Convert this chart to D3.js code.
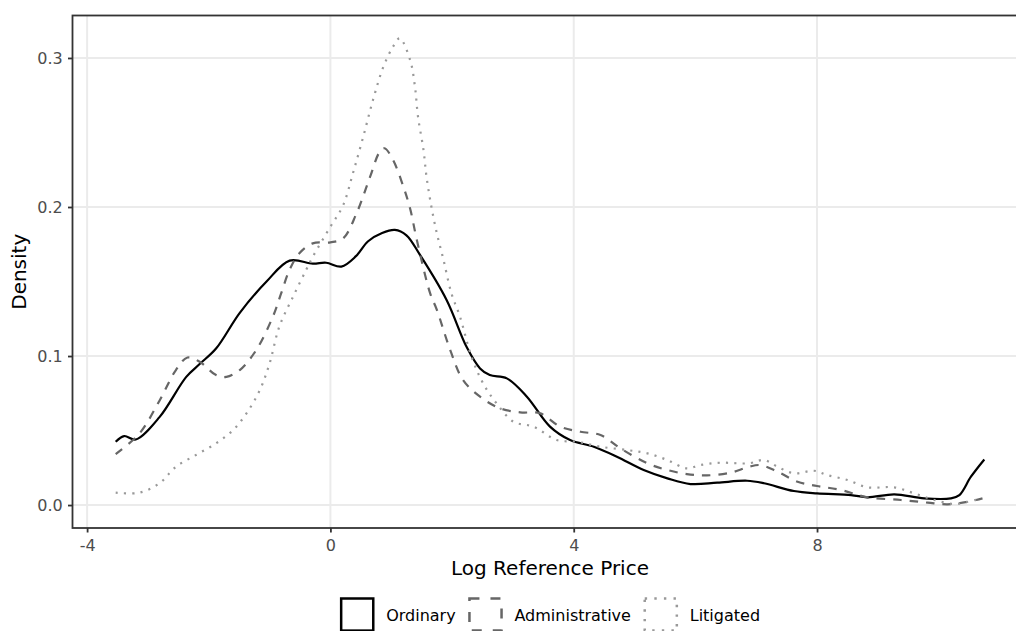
<!DOCTYPE html>
<html>
<head>
<meta charset="utf-8">
<script src="https://cdn.jsdelivr.net/npm/d3@7"></script>
<style>
  body { margin: 0; background: #fff; }
  svg { display: block; font-family: "DejaVu Sans", sans-serif; }
</style>
</head>
<body>
<svg id="chart" width="1016" height="631"></svg>
<script>
// series names, in legend order
const groups = ["Ordinary", "Administrative", "Litigated"];

// density curves (x = log reference price, y = density)
const ordinaryX = [-3.53, -3.39, -3.2, -2.81, -2.37, -2.15, -1.88, -1.49, -1.05, -0.67, -0.29, -0.07, 0.18, 0.42, 0.62, 0.85, 1.06, 1.25, 1.47, 1.91, 2.24, 2.46, 2.62, 2.9, 3.23, 3.61, 3.94, 4.33, 4.71, 5.15, 5.54, 5.92, 6.36, 6.85, 7.13, 7.62, 8.0, 8.56, 8.83, 9.27, 9.76, 10.2, 10.34, 10.53, 10.75];
const ordinaryY = [0.0425, 0.0463, 0.044, 0.059, 0.086, 0.0946, 0.105, 0.129, 0.15, 0.164, 0.162, 0.1626, 0.16, 0.167, 0.177, 0.1825, 0.1846, 0.181, 0.168, 0.1376, 0.106, 0.0917, 0.0872, 0.085, 0.0727, 0.0526, 0.0436, 0.0391, 0.0324, 0.0235, 0.0179, 0.0141, 0.015, 0.0163, 0.0146, 0.0094, 0.0078, 0.0067, 0.0052, 0.0072, 0.0045, 0.0045, 0.0067, 0.019, 0.0306];

const adminX = [-3.53, -3.14, -2.81, -2.54, -2.35, -2.15, -1.88, -1.71, -1.49, -1.22, -0.95, -0.81, -0.67, -0.51, -0.29, 0.0, 0.21, 0.43, 0.65, 0.81, 0.89, 1.03, 1.2, 1.31, 1.42, 1.64, 1.75, 1.97, 2.18, 2.46, 2.79, 3.12, 3.45, 3.78, 4.11, 4.44, 4.77, 5.21, 5.54, 5.86, 6.19, 6.58, 6.88, 7.07, 7.35, 7.68, 8.0, 8.39, 8.83, 9.38, 9.82, 10.15, 10.48, 10.72];
const adminY = [0.0342, 0.048, 0.07, 0.0906, 0.099, 0.0962, 0.0872, 0.086, 0.0906, 0.104, 0.126, 0.142, 0.158, 0.169, 0.1756, 0.1763, 0.179, 0.1958, 0.22, 0.237, 0.2394, 0.2315, 0.2136, 0.199, 0.178, 0.142, 0.131, 0.104, 0.0839, 0.0727, 0.0649, 0.0622, 0.0615, 0.0526, 0.0492, 0.047, 0.038, 0.028, 0.0235, 0.0208, 0.0199, 0.0217, 0.0257, 0.0268, 0.0224, 0.0156, 0.0128, 0.0101, 0.0052, 0.0034, 0.0016, 0.0005, 0.0022, 0.0045];

const litigatedX = [-3.53, -3.14, -2.81, -2.54, -2.21, -1.88, -1.6, -1.38, -1.16, -1.0, -0.84, -0.6, -0.4, -0.29, 0.0, 0.21, 0.37, 0.54, 0.7, 0.87, 1.03, 1.14, 1.31, 1.39, 1.44, 1.53, 1.58, 1.66, 1.75, 1.86, 1.99, 2.13, 2.32, 2.51, 2.73, 3.01, 3.34, 3.72, 4.05, 4.44, 4.88, 5.21, 5.54, 5.86, 6.08, 6.41, 6.88, 7.13, 7.35, 7.62, 7.95, 8.17, 8.5, 8.83, 9.27, 9.6, 9.93, 10.26, 10.48, 10.7];
const litigatedY = [0.0083, 0.0083, 0.0146, 0.0257, 0.0336, 0.0414, 0.0503, 0.0615, 0.0772, 0.095, 0.1197, 0.141, 0.1577, 0.1666, 0.1868, 0.2013, 0.2226, 0.2472, 0.2718, 0.294, 0.3076, 0.3132, 0.2987, 0.2807, 0.2606, 0.2383, 0.2203, 0.2002, 0.1823, 0.1644, 0.142, 0.1264, 0.0995, 0.0817, 0.0683, 0.0559, 0.0526, 0.0436, 0.0425, 0.0391, 0.0369, 0.0347, 0.0302, 0.0246, 0.0268, 0.0284, 0.028, 0.0302, 0.0257, 0.0213, 0.023, 0.0201, 0.0168, 0.0119, 0.0119, 0.0078, 0.0034, 0.0007, 0.0022, 0.0045];

const xTicks = [-4, 0, 4, 8];
const yTicks = [0.0, 0.1, 0.2, 0.3];

// line styles per group
const styles = {
  "Ordinary":       { color: "#000000", dash: null },
  "Administrative": { color: "#666666", dash: "8.5,8" },
  "Litigated":      { color: "#999999", dash: "2.1,6.2" }
};

const series = [
  { name: "Ordinary", xs: ordinaryX, ys: ordinaryY },
  { name: "Administrative", xs: adminX, ys: adminY },
  { name: "Litigated", xs: litigatedX, ys: litigatedY }
];

// panel box (right side runs past the window, like the reference crop)
const panel = { left: 72.5, top: 15.5, right: 1027.5, bottom: 528 };

const x = d3.scaleLinear().domain([-4.24, 11.46]).range([panel.left, panel.right]);
const y = d3.scaleLinear().domain([-0.0154, 0.3285]).range([panel.bottom, panel.top]);

const svg = d3.select("#chart");

// grid
const grid = svg.append("g");
grid.selectAll(".gx").data(xTicks).enter().append("line")
  .attr("x1", d => x(d)).attr("x2", d => x(d))
  .attr("y1", panel.top).attr("y2", panel.bottom)
  .attr("stroke", "#EBEBEB").attr("stroke-width", 2);
grid.selectAll(".gy").data(yTicks).enter().append("line")
  .attr("x1", panel.left).attr("x2", panel.right)
  .attr("y1", d => y(d)).attr("y2", d => y(d))
  .attr("stroke", "#EBEBEB").attr("stroke-width", 2);

// curves
const line = d3.line()
  .x(d => x(d[0]))
  .y(d => y(d[1]))
  .curve(d3.curveCatmullRom.alpha(0.5));

series.forEach(s => {
  const pts = s.xs.map((v, i) => [v, s.ys[i]]);
  svg.append("path")
    .datum(pts)
    .attr("d", line)
    .attr("fill", "none")
    .attr("stroke", styles[s.name].color)
    .attr("stroke-width", 2.2)
    .attr("stroke-dasharray", styles[s.name].dash);
});

// panel border
svg.append("rect")
  .attr("x", panel.left).attr("y", panel.top)
  .attr("width", panel.right - panel.left).attr("height", panel.bottom - panel.top)
  .attr("fill", "none").attr("stroke", "#333333").attr("stroke-width", 1.8);

// axes
const xAxis = svg.append("g")
  .attr("transform", "translate(0," + panel.bottom + ")")
  .call(d3.axisBottom(x).tickValues(xTicks).tickSize(4.5).tickPadding(6.8).tickFormat(d3.format("d")));
const yAxis = svg.append("g")
  .attr("transform", "translate(" + panel.left + ",0)")
  .call(d3.axisLeft(y).tickValues(yTicks).tickSize(4.5).tickPadding(5.3).tickFormat(d3.format(".1f")));

[xAxis, yAxis].forEach(a => {
  a.select(".domain").remove();
  a.selectAll(".tick line").attr("stroke", "#333333").attr("stroke-width", 1.8);
  a.selectAll(".tick text")
    .attr("fill", "#4D4D4D")
    .style("font-size", "16px")
    .style("font-family", "DejaVu Sans, sans-serif");
});
// ggplot uses a plain hyphen for negatives
xAxis.selectAll(".tick text").text(d => String(d));

// axis titles
svg.append("text")
  .attr("x", (panel.left + panel.right) / 2).attr("y", 574.6)
  .attr("text-anchor", "middle").style("font-size", "20px").attr("fill", "#000")
  .text("Log Reference Price");
svg.append("text")
  .attr("transform", "translate(26.3," + (panel.top + panel.bottom) / 2 + ") rotate(-90)")
  .attr("text-anchor", "middle").style("font-size", "20px").attr("fill", "#000")
  .text("Density");

// legend
const legend = svg.append("g");
const keySize = 34.5, keyGap = 11.7, itemGap = 12.6, keyTop = 597.3;
const labels = groups.map(g => legend.append("text")
  .style("font-size", "16px").attr("fill", "#000").attr("y", 620.5).text(g));
const widths = labels.map(t => t.node().getComputedTextLength());
let total = 0;
widths.forEach((w, i) => { total += keySize + keyGap + w + (i < widths.length - 1 ? itemGap : 0); });
let cx = (panel.left + panel.right) / 2 - total / 2;
groups.forEach((g, i) => {
  legend.append("rect")
    .attr("x", cx + 1.2).attr("y", keyTop + 1.2)
    .attr("width", keySize - 2.4).attr("height", keySize - 2.4)
    .attr("fill", "#fff")
    .attr("stroke", styles[g].color)
    .attr("stroke-width", 2.5)
    .attr("stroke-dasharray", g === "Administrative" ? "10,11" : g === "Litigated" ? "2.4,7.2" : null);
  labels[i].attr("x", cx + keySize + keyGap);
  cx += keySize + keyGap + widths[i] + itemGap;
});
</script>
</body>
</html>
